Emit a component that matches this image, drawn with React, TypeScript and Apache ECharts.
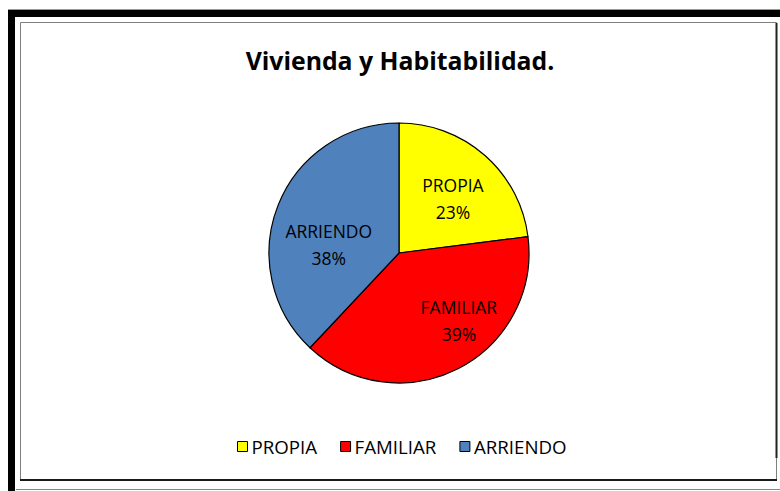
import React, { useEffect, useRef } from "react";
import * as echarts from "echarts";

const titleText = "Vivienda y Habitabilidad.";
const categories = ["PROPIA", "FAMILIAR", "ARRIENDO"];
const values = [23, 39, 38];
const colors = ["#FFFF00", "#FF0000", "#4F81BD"];
const labelShift = [
  [9, -3],
  [29, 7],
  [-7, 17],
];

export default function App() {
  const ref = useRef<HTMLDivElement>(null);
  useEffect(() => {
    if (!ref.current) return;
    const chart = echarts.init(ref.current, null, { renderer: "svg" });
    const font = "'Open Sans', sans-serif";
    chart.setOption({
      animation: false,
      backgroundColor: "#ffffff",
      title: {
        text: titleText,
        left: 395,
        textAlign: "center",
        top: 42,
        textStyle: { fontFamily: font, fontWeight: "bold", fontSize: 24.8, color: "#000" },
      },
      legend: {
        bottom: 30,
        left: 232,
        icon: "rect",
        itemWidth: 10,
        itemHeight: 10,
        itemGap: 23,
        itemStyle: { borderColor: "#000", borderWidth: 1 },
        textStyle: { fontFamily: font, fontSize: 18.7, color: "#000", padding: [0, 0, 0, -1] },
        data: categories,
      },
      graphic: [
        { type: "rect", shape: { x: 8, y: 10, width: 772, height: 7 }, style: { fill: "#000" } },
        { type: "rect", shape: { x: 8, y: 10, width: 7, height: 481 }, style: { fill: "#000" } },
        { type: "line", shape: { x1: 8, y1: 9.5, x2: 780, y2: 9.5 }, style: { stroke: "#999", lineWidth: 1 } },
        { type: "line", shape: { x1: 16, y1: 489.5, x2: 780, y2: 489.5 }, style: { stroke: "#888", lineWidth: 1 } },
        { type: "rect", shape: { x: 20.5, y: 22.5, width: 756, height: 458 }, style: { fill: "none", stroke: "#7f7f7f", lineWidth: 1 } },
        { type: "line", shape: { x1: 20, y1: 480, x2: 777, y2: 480 }, style: { stroke: "#1a1a1a", lineWidth: 2 } },
        { type: "line", shape: { x1: 776.5, y1: 23, x2: 776.5, y2: 458 }, style: { stroke: "#222", lineWidth: 2 } },
      ],
      series: [
        {
          type: "pie",
          center: [399, 253],
          radius: 130,
          startAngle: 90,
          clockwise: true,
          label: {
            show: true,
            position: "inside",
            formatter: "{b}\n{d}%",
            fontFamily: font,
            fontSize: 17.5,
            lineHeight: 27,
            color: "#000",
          },
          labelLayout: (p: any) => ({ dx: labelShift[p.dataIndex][0], dy: labelShift[p.dataIndex][1] }),
          itemStyle: { borderColor: "#000", borderWidth: 1.2 },
          emphasis: { disabled: true },
          data: categories.map((c, i) => ({
            name: c,
            value: values[i],
            itemStyle: { color: colors[i] },
          })),
        },
      ],
    });
    return () => chart.dispose();
  }, []);
  return (
    <div
      ref={ref}
      style={{ position: "fixed", left: 0, top: 0, width: 780, height: 491 }}
    />
  );
}
